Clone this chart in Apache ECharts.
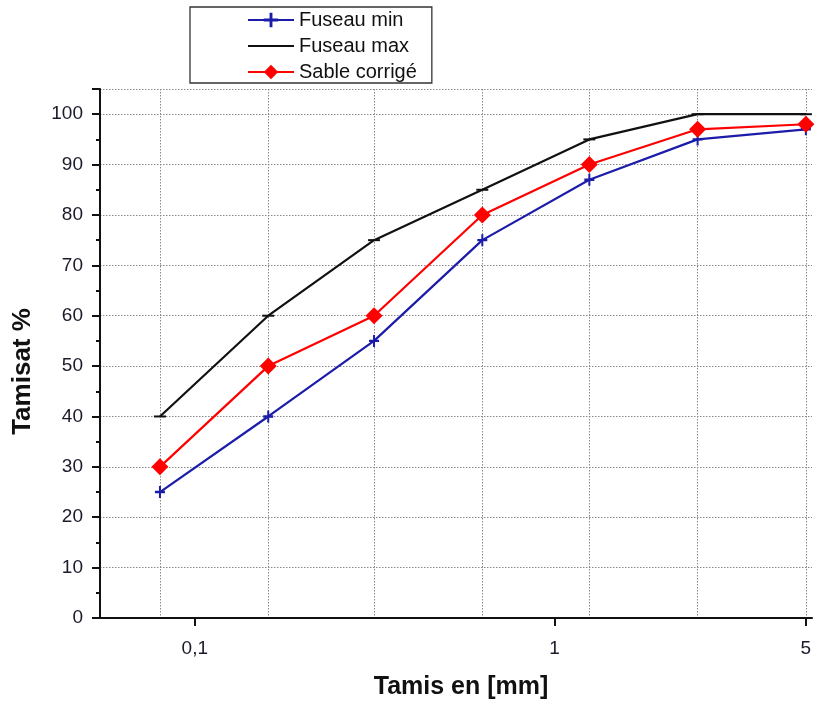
<!DOCTYPE html>
<html><head><meta charset="utf-8">
<script src="https://cdn.jsdelivr.net/npm/echarts@6/dist/echarts.min.js"></script>
<style>html,body{margin:0;padding:0;background:#fff}#c{width:817px;height:705px}</style>
</head><body><div id="c"></div>
<script>
const sieves = [0.08, 0.16, 0.315, 0.63, 1.25, 2.5, 5];
const fuseauMin = [25, 40, 55, 75, 87, 95, 97];
const fuseauMax = [40, 60, 75, 85, 95, 100, 100];
const sableCorrige = [30, 50, 60, 80, 90, 97, 98];
const xTickValues = [0.1, 1, 5];
const xTickLabels = ['0,1', '1', '5'];
const seriesNames = ['Fuseau min', 'Fuseau max', 'Sable corrigé'];

const FONT = 'Liberation Sans, Arial, sans-serif';
const pairs = (ys) => sieves.map((x, i) => [x, ys[i]]);
const labelFor = (v) => {
  let best = 0;
  xTickValues.forEach((t, i) => { if (Math.abs(Math.log10(t) - Math.log10(v)) < Math.abs(Math.log10(xTickValues[best]) - Math.log10(v))) best = i; });
  return xTickLabels[best];
};

const chart = echarts.init(document.getElementById('c'), null, {renderer: 'canvas'});
chart.setOption({
  animation: false,
  backgroundColor: '#fff',
  grid: {left: 100, right: 5, top: 89, bottom: 85, containLabel: false},
  legend: {
    orient: 'vertical', left: 190, top: 7,
    padding: [3, 15, 1, 57],
    borderColor: '#333', borderWidth: 1.3,
    itemWidth: 46, itemHeight: 18, itemGap: 6,
    textStyle: {fontFamily: FONT, fontSize: 20, color: '#111'},
    data: [{name: seriesNames[0]}, {name: seriesNames[1], itemStyle: {opacity: 0}}, {name: seriesNames[2]}]
  },
  xAxis: [{
    type: 'log', logBase: 10, min: 0.0545, max: 5.2,
    name: 'Tamis en [mm]', nameLocation: 'middle', nameGap: 57,
    nameTextStyle: {fontFamily: FONT, fontSize: 25, fontWeight: 'bold', color: '#111', padding: [0, 0, 0, 10]},
    axisLine: {show: true, lineStyle: {color: '#111', width: 2}},
    axisTick: {show: true, inside: false, length: 8, customValues: xTickValues, lineStyle: {color: '#111', width: 2}},
    minorTick: {show: false},
    axisLabel: {customValues: xTickValues, formatter: labelFor, fontFamily: FONT, fontSize: 19, color: '#1a1a2a', margin: 21},
    splitLine: {show: false}
  }, {
    type: 'log', logBase: 10, min: 0.0545, max: 5.2, position: 'bottom',
    axisLine: {show: false},
    axisTick: {show: false, customValues: sieves},
    axisLabel: {show: false},
    splitLine: {show: true, lineStyle: {color: '#888', width: 1, type: [1.5, 1.5]}}
  }],
  yAxis: {
    type: 'value', min: 0, max: 105, interval: 10,
    name: 'Tamisat %', nameLocation: 'middle', nameGap: 64,
    nameTextStyle: {fontFamily: FONT, fontSize: 26, fontWeight: 'bold', color: '#111', padding: [0, 36, 0, 0]},
    axisLine: {show: true, lineStyle: {color: '#111', width: 2}},
    axisTick: {show: true, length: 8, lineStyle: {color: '#111', width: 2}},
    minorTick: {show: true, splitNumber: 2, length: 4, lineStyle: {color: '#111', width: 2}},
    axisLabel: {fontFamily: FONT, fontSize: 19, color: '#1a1a2a', margin: 17,
      formatter: (v) => (v % 10 === 0 ? String(v) : '')},
    splitLine: {show: true, lineStyle: {color: '#888', width: 1, type: [1.5, 1.5]}}
  },
  series: [{
    name: seriesNames[0], type: 'line', data: pairs(fuseauMin), xAxisIndex: 0,
    symbol: 'path://M4 0H6V10H4ZM0 4H10V6H0Z', symbolSize: [10, 12], showAllSymbol: true,
    itemStyle: {color: '#1c1caa'}, lineStyle: {color: '#1c1caa', width: 2.2}, z: 3
  }, {
    name: seriesNames[1], type: 'line', data: pairs(fuseauMax), xAxisIndex: 0,
    symbol: 'path://M0 0H10V2H0Z', symbolSize: [12, 2], showAllSymbol: true,
    itemStyle: {color: '#111'}, lineStyle: {color: '#111', width: 2.2}, z: 2
  }, {
    name: seriesNames[2], type: 'line', data: pairs(sableCorrige), xAxisIndex: 0,
    symbol: 'diamond', symbolSize: 17, showAllSymbol: true,
    itemStyle: {color: '#ff0000'}, lineStyle: {color: '#ff0000', width: 2.2}, z: 4
  }]
});
</script></body></html>
